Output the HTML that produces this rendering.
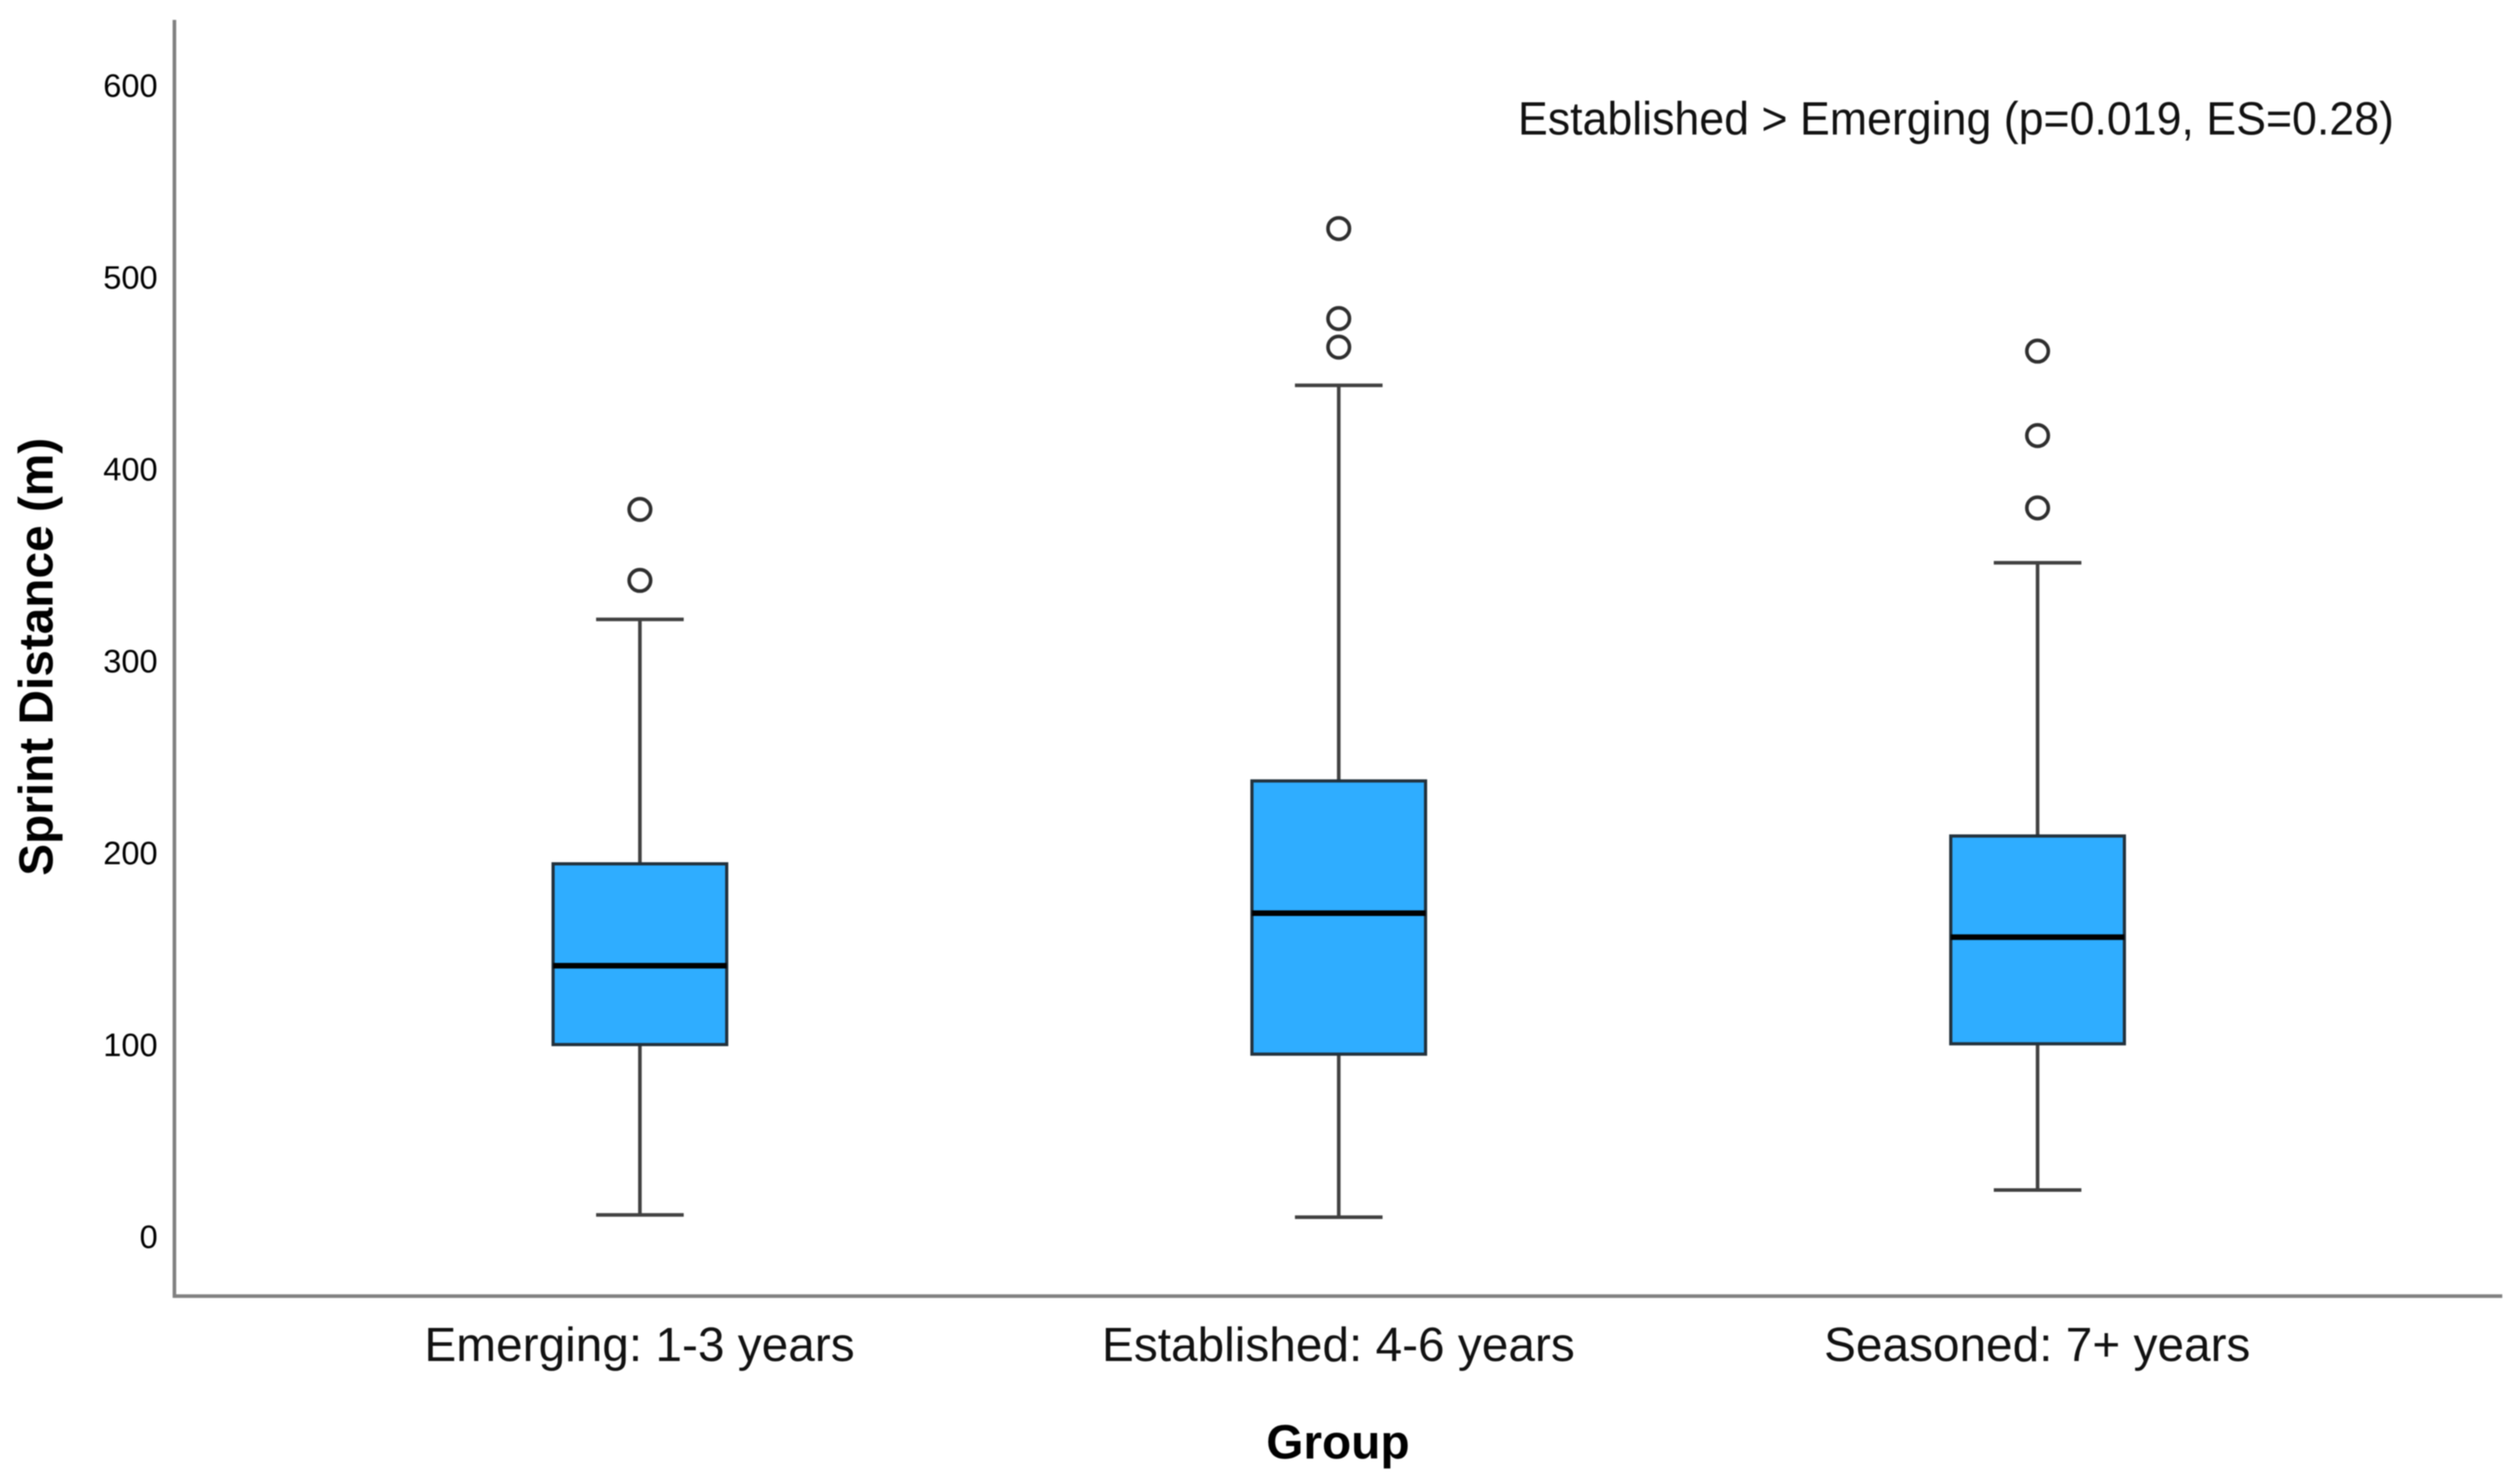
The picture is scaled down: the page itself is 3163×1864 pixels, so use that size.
<!DOCTYPE html>
<html lang="en">
<head>
<meta charset="utf-8">
<title>Sprint Distance by Group</title>
<style>
  html, body { margin: 0; padding: 0; background: #fff; }
  body { width: 3163px; height: 1864px; overflow: hidden; }
  svg { display: block; filter: blur(0.7px); font-family: "Liberation Sans", Arial, sans-serif; }
  .tick { font-size: 41px; fill: #000; text-anchor: end; }
  .cat { font-size: 60px; fill: #111; text-anchor: middle; }
  .title { font-size: 60px; font-weight: bold; fill: #000; text-anchor: middle; }
</style>
</head>
<body>
<svg id="chart" width="3163" height="1864" viewBox="0 0 3163 1864" xmlns="http://www.w3.org/2000/svg">
  <rect x="0" y="0" width="3163" height="1864" fill="#ffffff"/>
  <line x1="219" y1="25" x2="219" y2="1630" stroke="#808080" stroke-width="4.5"/>
  <line x1="217" y1="1628" x2="3142" y2="1628" stroke="#808080" stroke-width="4.5"/>
  <g id="y-ticks"></g>
  <g id="boxes"></g>
  <g id="x-labels"></g>
  <text class="title" transform="translate(66 825) rotate(-90)">Sprint Distance (m)</text>
  <text class="title" x="1680" y="1832">Group</text>
  <text x="1906" y="169" font-size="58" fill="#111" textLength="1100" lengthAdjust="spacingAndGlyphs">Established &gt; Emerging (p=0.019, ES=0.28)</text>
</svg>
<script>
const categories = ['Emerging: 1-3 years', 'Established: 4-6 years', 'Seasoned: 7+ years'];
const whiskerLow = [11.6, 10.4, 24.6];
const quartile1 = [100.4, 95.4, 100.8];
const medians = [141.5, 168.9, 156.4];
const quartile3 = [194.6, 237.8, 209.1];
const whiskerHigh = [322, 444, 351.5];
const outliers = [
  [342.3, 379.3],
  [463.9, 478.8, 525.7],
  [380.1, 417.8, 461.8]
];
const yTickValues = [0, 100, 200, 300, 400, 500, 600];

const SVG_NS = 'http://www.w3.org/2000/svg';
const yScale = function (v) { return 1554 - 2.41 * v; };
const xScale = function (i) { return 803.5 + 877.5 * i; };
const BOX_WIDTH = 218;
const CAP_WIDTH = 110;

function make(tag, attrs, parent) {
  const el = document.createElementNS(SVG_NS, tag);
  for (const k in attrs) { el.setAttribute(k, attrs[k]); }
  parent.appendChild(el);
  return el;
}

const tickGroup = document.getElementById('y-ticks');
yTickValues.forEach(function (v) {
  const t = make('text', { class: 'tick', x: 198, y: yScale(v) + 13.5 }, tickGroup);
  
  
  t.textContent = String(v);
});

const xGroup = document.getElementById('x-labels');
categories.forEach(function (c, i) {
  const t = make('text', { class: 'cat', x: xScale(i) - 0.5, y: 1709.5 }, xGroup);
  
  
  t.textContent = c;
});

const boxGroup = document.getElementById('boxes');
categories.forEach(function (c, i) {
  const cx = xScale(i);
  const g = make('g', {}, boxGroup);
  
  

  const upper = make('line', { x1: cx, x2: cx, y1: yScale(quartile3[i]), y2: yScale(whiskerHigh[i]), stroke: '#404040', 'stroke-width': 4.5 }, g);
  
  

  const lower = make('line', { x1: cx, x2: cx, y1: yScale(quartile1[i]), y2: yScale(whiskerLow[i]), stroke: '#404040', 'stroke-width': 4.5 }, g);
  
  

  const capHigh = make('line', { x1: cx - CAP_WIDTH / 2, x2: cx + CAP_WIDTH / 2, y1: yScale(whiskerHigh[i]), y2: yScale(whiskerHigh[i]), stroke: '#404040', 'stroke-width': 4.5 }, g);
  
  

  const capLow = make('line', { x1: cx - CAP_WIDTH / 2, x2: cx + CAP_WIDTH / 2, y1: yScale(whiskerLow[i]), y2: yScale(whiskerLow[i]), stroke: '#404040', 'stroke-width': 4.5 }, g);
  
  

  const box = make('rect', { x: cx - BOX_WIDTH / 2, y: yScale(quartile3[i]), width: BOX_WIDTH, height: yScale(quartile1[i]) - yScale(quartile3[i]), fill: '#2fadff', stroke: '#22313c', 'stroke-width': 4 }, g);
  
  

  const med = make('line', { x1: cx - BOX_WIDTH / 2, x2: cx + BOX_WIDTH / 2, y1: yScale(medians[i]), y2: yScale(medians[i]), stroke: '#000000', 'stroke-width': 7 }, g);
  
  

  outliers[i].forEach(function (v) {
    const o = make('circle', { cx: cx, cy: yScale(v), r: 13.5, fill: '#ffffff', stroke: '#2e2e2e', 'stroke-width': 4.5 }, g);
    
    
  });
});
</script>
</body>
</html>
